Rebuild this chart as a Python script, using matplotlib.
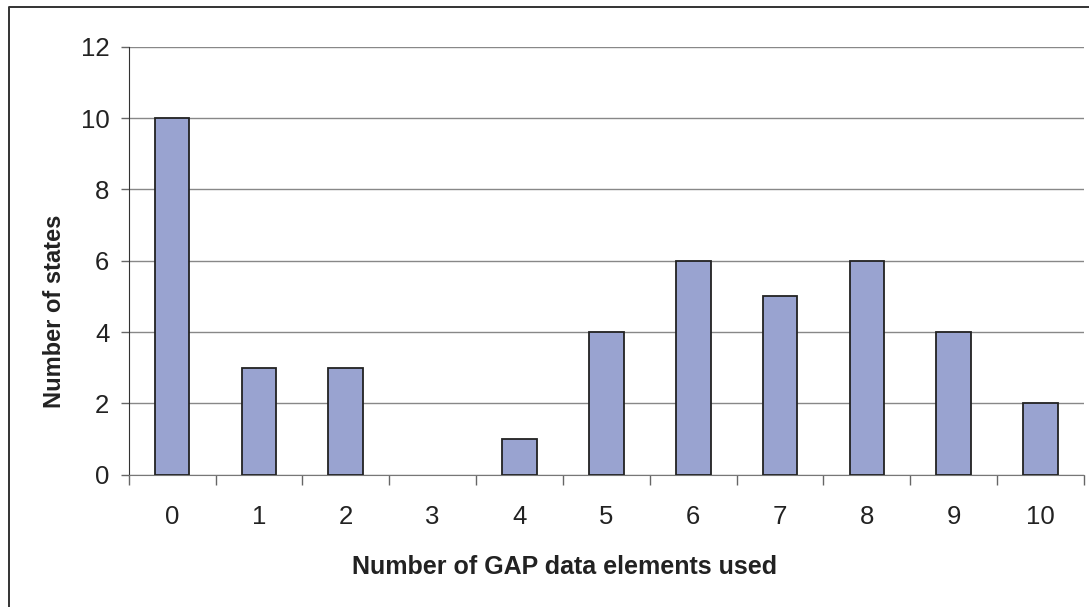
import numpy as np
import matplotlib
matplotlib.use("Agg")
import matplotlib.pyplot as plt
from matplotlib.lines import Line2D

plt.rcParams['font.family'] = ['Liberation Sans', 'DejaVu Sans']

# data
gap_elements = list(range(11))
num_states = [10, 3, 3, 0, 1, 4, 6, 5, 6, 4, 2]
y_ticks = [0, 2, 4, 6, 8, 10, 12]

W, H = 1089, 607
fig = plt.figure(figsize=(W / 100, H / 100), dpi=100)

# outer chart frame: only the top and left edges are visible
fx, fy = 8.5 / W, 1 - 6.5 / H
fig.lines.append(Line2D([fx, fx, 1.0], [0.0, fy, fy], transform=fig.transFigure,
                        color='#333333', linewidth=1.4))

ax = fig.add_axes([128.7 / W, 1 - 474.7 / H, (1084 - 128.7) / W, (474.7 - 46.7) / H])

x = np.arange(len(gap_elements))
# an empty category shows no outline at all
edge_w = [1.3 if v else 0 for v in num_states]
ax.bar(x, num_states, width=0.4, color='#99A3D0', edgecolor='#222222',
       linewidth=edge_w, zorder=3)

ax.set_xlim(-0.5, len(gap_elements) - 0.5)
ax.set_ylim(0, 12)
ax.set_yticks(y_ticks)
ax.set_yticklabels([str(v) for v in y_ticks])
ax.yaxis.grid(True, color='#888888', linewidth=1.0, zorder=0)

# category boundaries get the tick marks, labels sit in the middle
ax.set_xticks(np.arange(-0.5, len(gap_elements), 1.0))
ax.set_xticklabels([])
ax.set_xticks(x, minor=True)
ax.set_xticklabels([str(g) for g in gap_elements], minor=True)
ax.tick_params(axis='x', which='major', direction='out', length=7, width=1,
               color='#666666')
ax.tick_params(axis='x', which='minor', length=0, pad=22, labelsize=18.5,
               labelcolor='#222222')
ax.tick_params(axis='y', direction='out', length=6, width=1, color='#666666',
               pad=8, labelsize=18.5, labelcolor='#222222')

for s in ['top', 'right']:
    ax.spines[s].set_visible(False)
ax.spines['left'].set_color('#333333')
ax.spines['bottom'].set_color('#777777')

fig.text(565 / W, 1 - 567 / H, 'Number of GAP data elements used', ha='center',
         va='center', fontsize=18, fontweight='bold', color='#222222')
fig.text(55 / W, 1 - 311 / H, 'Number of states', ha='center', va='center',
         rotation=90, fontsize=17, fontweight='bold', color='#222222')

fig.savefig('out.png', dpi=100)
